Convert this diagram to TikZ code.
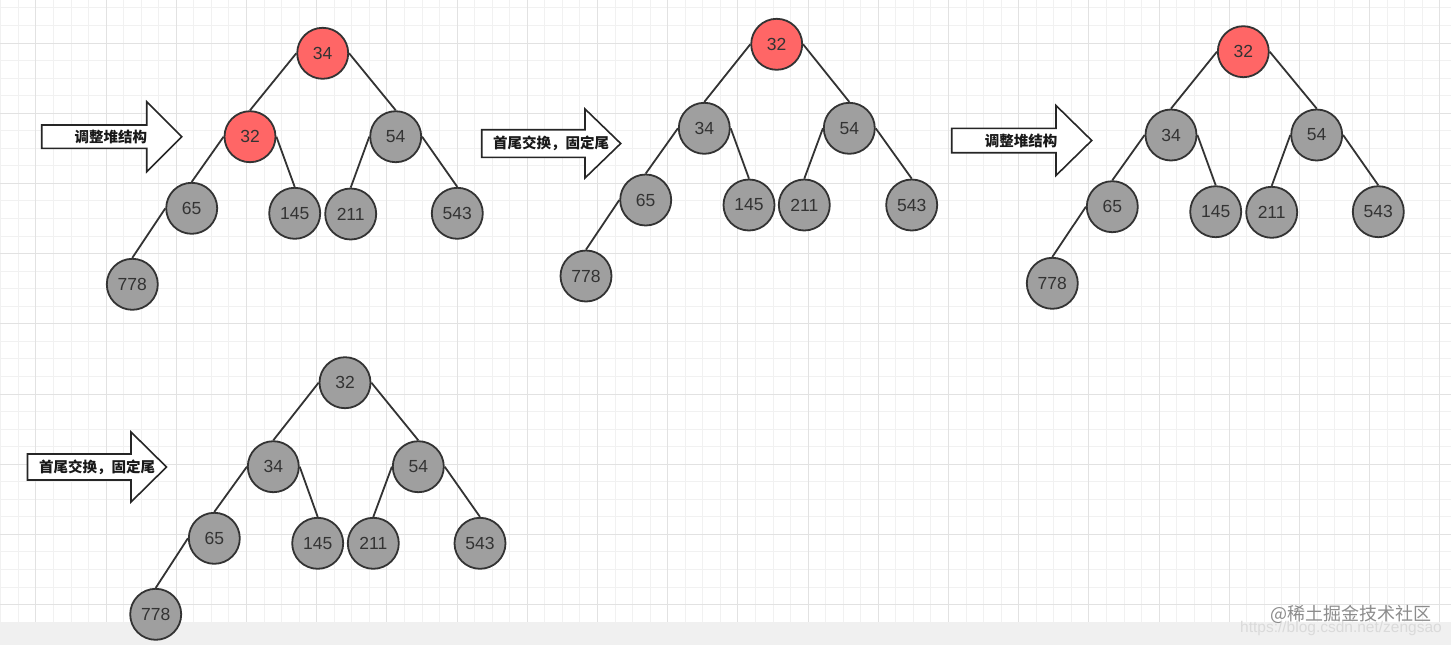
\documentclass[tikz,border=0pt]{standalone}
\usepackage{fontspec}
\setmainfont{Liberation Sans}
\newfontfamily\cjk{Noto Sans CJK SC}
\definecolor{redc}{HTML}{FF6666}
\definecolor{grayc}{HTML}{9F9F9F}
\definecolor{linec}{HTML}{333333}
\definecolor{numc}{HTML}{333333}
\definecolor{gridmin}{HTML}{F1F1F1}
\definecolor{gridmaj}{HTML}{E2E2E2}
\definecolor{stripc}{HTML}{F0F0F0}
\definecolor{wmc}{HTML}{8C8C8C}
\definecolor{urlc}{HTML}{DADADA}
\newcommand\blockarrow[6]{%
  \draw[arrowshape] ({#1},{#4-#5}) -- ({#2},{#4-#5}) -- ({#2},{#4-#6}) -- ({#3},{#4})
     -- ({#2},{#4+#6}) -- ({#2},{#4+#5}) -- ({#1},{#4+#5}) -- cycle;}
\tikzset{
  hnode/.style={circle, draw=linec, line width=1.8pt, fill=grayc, minimum size=51pt,
    inner sep=0pt, text=numc, font=\fontsize{17.5}{17.5}\selectfont},
  rnode/.style={hnode, fill=redc},
  edge/.style={draw=linec, line width=1.8pt},
  arrowshape/.style={draw=black!85, line width=1.6pt, fill=white, line join=miter},
  lbl/.style={inner sep=0pt, text=black!90, font=\cjk\bfseries\fontsize{14.5}{14.5}\selectfont},
  gmin/.style={draw=gridmin, line width=1pt},
  gmaj/.style={draw=gridmaj, line width=1pt}
}
\begin{document}
\begin{tikzpicture}[x=1pt,y=-1pt]
\useasboundingbox (0,0) rectangle (1451,645);
\fill[white] (0,0) rectangle (1451,645);
% grid
\foreach \k in {0,...,82} {\pgfmathsetmacro\xx{0.8+17.55*\k}\draw[gmin] (\xx,0) -- (\xx,622);}
\foreach \k in {0,...,35} {\pgfmathsetmacro\yy{7.9+17.55*\k}\draw[gmin] (0,\yy) -- (1451,\yy);}
\foreach \k in {0,...,20} {\pgfmathsetmacro\xx{35.9+70.2*\k}\draw[gmaj] (\xx,0) -- (\xx,622);}
\foreach \k in {0,...,8} {\pgfmathsetmacro\yy{43+70.2*\k}\draw[gmaj] (0,\yy) -- (1451,\yy);}
\fill[stripc] (0,622) rectangle (1451,645);
% arrows
\blockarrow{41.7}{146.7}{181.7}{136.7}{11.7}{35}
\node[lbl] (a1) at (110.8,136.7) {调整堆结构};
\blockarrow{481.7}{585}{620.7}{143.5}{13.8}{34.5}
\node[lbl] (a2) at (551,143.5) {首尾交换，固定尾};
\blockarrow{951.7}{1056}{1091.7}{140.5}{12.2}{35}
\node[lbl] (a3) at (1021,140.5) {调整堆结构};
\blockarrow{27.5}{131}{166.5}{467}{13}{35}
\node[lbl] (a4) at (97,467) {首尾交换，固定尾};
% tree 1
\node[rnode] (t1root) at (322.7,53.3) {34};
\node[rnode] (t1L) at (250,136.7) {32};
\node[hnode] (t1R) at (395.7,136.7) {54};
\node[hnode] (t1LL) at (191.7,208.3) {65};
\node[hnode] (t1LR) at (294.7,213.3) {145};
\node[hnode] (t1RL) at (350.7,214) {211};
\node[hnode] (t1RR) at (457.3,213.3) {543};
\node[hnode] (t1LLL) at (132.3,284.3) {778};
% tree 2
\node[rnode] (t2root) at (776.7,44.3) {32};
\node[hnode] (t2L) at (704.3,128.3) {34};
\node[hnode] (t2R) at (849.3,128.3) {54};
\node[hnode] (t2LL) at (645.7,200) {65};
\node[hnode] (t2LR) at (749,205) {145};
\node[hnode] (t2RL) at (804.3,205) {211};
\node[hnode] (t2RR) at (911.7,205) {543};
\node[hnode] (t2LLL) at (586,276) {778};
% tree 3
\node[rnode] (t3root) at (1243.3,51.7) {32};
\node[hnode] (t3L) at (1171,135) {34};
\node[hnode] (t3R) at (1316.7,135) {54};
\node[hnode] (t3LL) at (1112.3,206.7) {65};
\node[hnode] (t3LR) at (1215.7,211.7) {145};
\node[hnode] (t3RL) at (1271.7,212.3) {211};
\node[hnode] (t3RR) at (1378.3,211.7) {543};
\node[hnode] (t3LLL) at (1052.3,283.3) {778};
% tree 4
\node[hnode] (t4root) at (345,382.7) {32};
\node[hnode] (t4L) at (273.3,466.7) {34};
\node[hnode] (t4R) at (418.3,466.7) {54};
\node[hnode] (t4LL) at (214.3,538.3) {65};
\node[hnode] (t4LR) at (317.7,543.3) {145};
\node[hnode] (t4RL) at (373.3,543.3) {211};
\node[hnode] (t4RR) at (480,543.3) {543};
\node[hnode] (t4LLL) at (155.7,614.3) {778};
% edges
\foreach \t in {t1,t2,t3,t4} {
  \foreach \p/\a/\c in {root/west/L, root/east/R, L/west/LL, L/east/LR, R/west/RL, R/east/RR, LL/west/LLL}
    \draw[edge] (\t\p.\a) -- (\t\c.north);
}
% watermark
\node[anchor=east, inner sep=0pt, text=wmc, font=\cjk\fontsize{18}{18}\selectfont] (wm) at (1432,614.7) {@稀土掘金技术社区};
\node[anchor=east, inner sep=0pt, text=urlc, font=\fontsize{15.5}{15.5}\selectfont] (url) at (1442,628.5) {https://blog.csdn.net/zengsao};
\end{tikzpicture}
\end{document}
